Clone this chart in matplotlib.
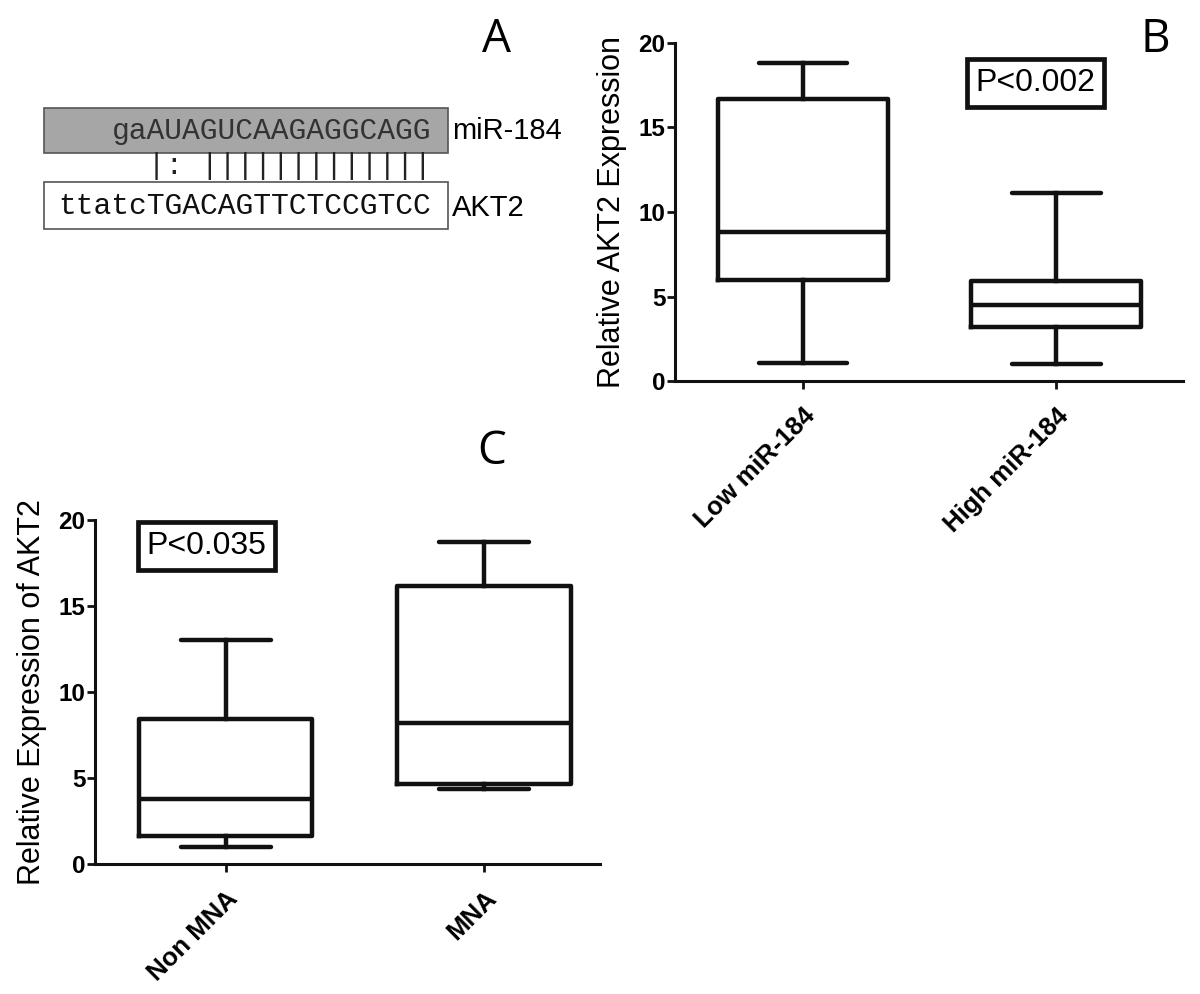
import numpy as np
import matplotlib
matplotlib.use('Agg')
import matplotlib.pyplot as plt
from matplotlib.patches import Rectangle

plt.rcParams['font.family'] = ['Liberation Sans', 'DejaVu Sans']

# panel A: sequence alignment
mir_seq = 'gaAUAGUCAAGAGGCAGG'
akt_seq = 'ttatcTGACAGTTCTCCGTCC'
pair_str = '     |: |||||||||||||'
mir_name = 'miR-184'
akt_name = 'AKT2'

# panel B: AKT2 by miR-184 level
b_groups = ['Low miR-184', 'High miR-184']
b_whislo = [1.08, 1.03]
b_q1 = [5.98, 3.2]
b_med = [8.8, 4.52]
b_q3 = [16.65, 5.9]
b_whishi = [18.78, 11.12]
b_pval = 'P<0.002'

# panel C: AKT2 by MNA status
c_groups = ['Non MNA', 'MNA']
c_whislo = [0.97, 4.38]
c_q1 = [1.6, 4.67]
c_med = [3.77, 8.17]
c_q3 = [8.45, 16.14]
c_whishi = [13.05, 18.75]
c_pval = 'P<0.035'

yticks = [0, 5, 10, 15, 20]


def make_stats(whislo, q1, med, q3, whishi, labels):
    stats = []
    for i in range(len(labels)):
        stats.append({'whislo': whislo[i], 'q1': q1[i], 'med': med[i],
                      'q3': q3[i], 'whishi': whishi[i], 'fliers': [],
                      'label': labels[i]})
    return stats


def draw_box_panel(ax, stats, ylabel, pval, pxy, xlim):
    lw = 3.2
    ax.bxp(stats, positions=[1, 2], widths=0.67, showfliers=False,
           boxprops=dict(color='#111111', linewidth=lw),
           medianprops=dict(color='#111111', linewidth=lw),
           whiskerprops=dict(color='#111111', linewidth=lw),
           capprops=dict(color='#111111', linewidth=lw, solid_capstyle='round'),
           capwidths=0.35)
    ax.set_xlim(*xlim)
    ax.set_ylim(0, 20)
    ax.set_yticks(yticks)
    ax.set_yticklabels([str(t) for t in yticks], fontsize=17.5, fontweight='bold')
    for s in ['top', 'right']:
        ax.spines[s].set_visible(False)
    for s in ['left', 'bottom']:
        ax.spines[s].set_linewidth(2.2)
        ax.spines[s].set_color('#111111')
    ax.tick_params(axis='both', direction='out', length=6, width=2, color='#111111')
    ax.tick_params(axis='y', pad=1)
    ax.tick_params(axis='x', pad=10)
    ax.set_xticks([1, 2])
    ax.set_xticklabels([st['label'] for st in stats], rotation=45, ha='right',
                       va='top', rotation_mode='anchor', fontsize=18.5,
                       fontweight='bold')
    ax.set_ylabel(ylabel, fontsize=22, labelpad=8)
    ax.text(pxy[0], pxy[1], pval, fontsize=23, ha='center', va='center',
            bbox=dict(boxstyle='square,pad=0.28', fc='white', ec='#111111', lw=3.4))


fig = plt.figure(figsize=(12, 9.94), dpi=100)

# panel B
axb = fig.add_axes([0.5625, 0.6163, 0.4233, 0.3407])
draw_box_panel(axb, make_stats(b_whislo, b_q1, b_med, b_q3, b_whishi, b_groups),
               'Relative AKT2 Expression', b_pval, (1.918, 17.6), (0.495, 2.5))

# panel C
axc = fig.add_axes([0.0792, 0.1308, 0.421, 0.346])
draw_box_panel(axc, make_stats(c_whislo, c_q1, c_med, c_q3, c_whishi, c_groups),
               'Relative Expression of AKT2', c_pval, (0.926, 18.5), (0.494, 2.45))

# panel A, drawn in pixel coordinates over the whole figure
axa = fig.add_axes([0, 0, 1, 1], zorder=-1)
axa.set_xlim(0, 1200)
axa.set_ylim(994, 0)
axa.axis('off')
axa.add_patch(Rectangle((44, 108), 404, 45, fc='#a6a6a6', ec='#555555', lw=1.2))
axa.add_patch(Rectangle((44, 182), 404, 47, fc='white', ec='#555555', lw=1.2))
axa.text(431, 131, mir_seq, family='Liberation Mono', fontsize=21.3,
         color='#333333', ha='right', va='center')
axa.text(58.6, 206, akt_seq, family='Liberation Mono', fontsize=21.3,
         color='#111111', ha='left', va='center')
axa.text(58.6, 166, pair_str, family='Liberation Mono', fontsize=21.3,
         color='#222222', ha='left', va='center')
axa.text(452, 131, mir_name, fontsize=21, ha='left', va='center')
axa.text(452, 208, akt_name, fontsize=21, ha='left', va='center')

# panel letters
fig.text(497 / 1200, 1 - 40 / 994, 'A', family='Open Sans', fontsize=33, ha='center', va='center')
fig.text(1155 / 1200, 1 - 40 / 994, 'B', family='Open Sans', fontsize=33, ha='center', va='center')
fig.text(492 / 1200, 1 - 452 / 994, 'C', family='Open Sans', fontsize=33, ha='center', va='center')

fig.savefig('out.png', dpi=100)
